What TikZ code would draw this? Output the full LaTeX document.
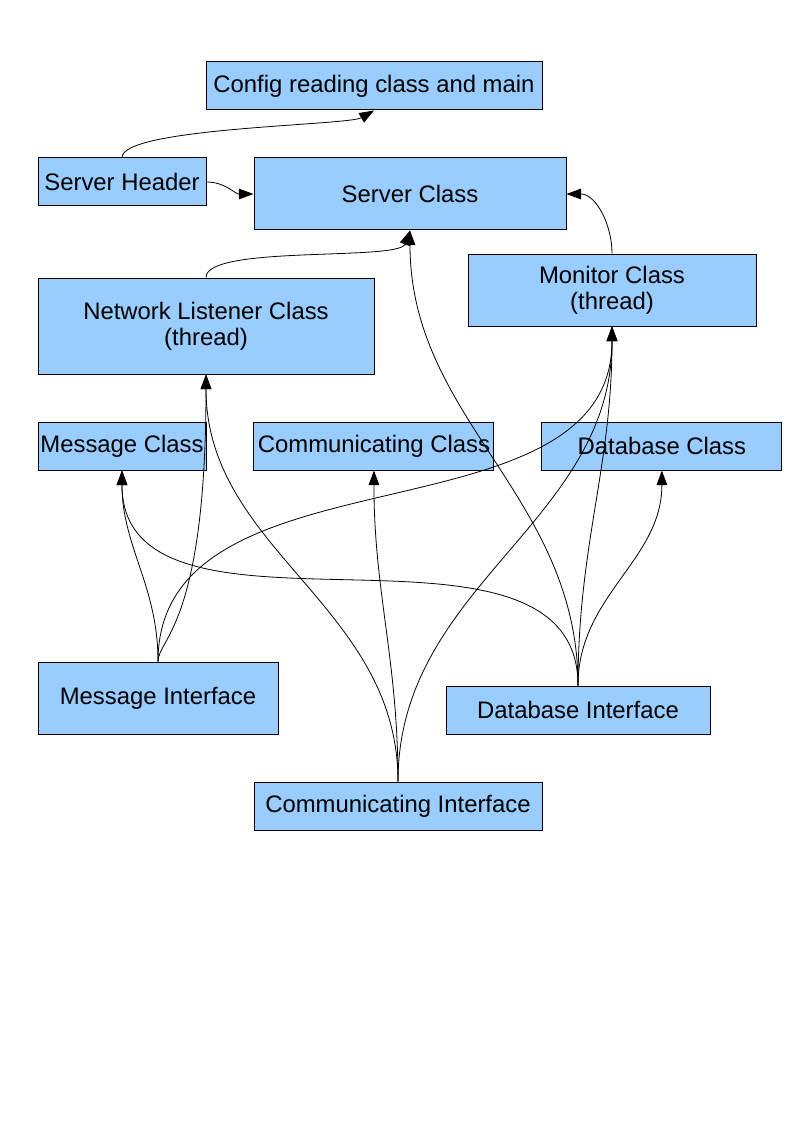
\documentclass[tikz,border=0pt]{standalone}
\usepackage{fontspec}
\setmainfont{Liberation Sans}
\usetikzlibrary{arrows.meta,positioning}
\definecolor{boxblue}{HTML}{99CCFF}

\begin{document}
\begin{tikzpicture}[x=0.75pt,y=-0.75pt]
 \tikzset{class node/.style={rectangle, draw, fill=boxblue, line width=0.75pt,
 		text centered, align=center, inner sep=0pt,
 		font=\fontsize{17.9pt}{19.5pt}\selectfont}, }
 \tikzset{linea/.style={-{Triangle[length=11pt,width=8pt]}, line width=0.6pt},}
 \fill[white] (0,0) rectangle (794,1123);
 \useasboundingbox (0,0) rectangle (794,1123);
 \node[class node, minimum width=252pt, minimum height=36pt] (1) at (374,86) {Config reading class and main};
 \node[class node, minimum width=126pt, minimum height=36pt] (2) at (122,182) {Server Header};
 \node[class node, minimum width=234pt, minimum height=54pt] (3) at (410,194) {Server Class};
 \node[class node, minimum width=252pt, minimum height=72pt] (4) at (206,326) {Network Listener Class\\(thread)};
 \node[class node, minimum width=216pt, minimum height=54pt] (5) at (612,290) {Monitor Class\\(thread)};
 \node[class node, minimum width=126pt, minimum height=36pt] (6) at (122,446) {Message Class};
 \node[class node, minimum width=180pt, minimum height=36pt] (7)[right=35.2pt of 6] {Communicating Class};
 \node[class node, minimum width=180pt, minimum height=36pt] (8)[right=35.2pt of 7] {Database Class};
 \node[class node, minimum width=180pt, minimum height=54pt] (9) at (158,698) {Message Interface};
 \node[class node, minimum width=198pt, minimum height=36pt] (10) at (578,710) {Database Interface};
 \node[class node, minimum width=216pt, minimum height=36pt] (11) at (398,806) {Communicating Interface};
 \foreach \x /\y in {9/6,9/5,11/7,11/4,11/5,10/6,10/3,10/5,10/8}
 \draw[linea] (\x.north) to[out=90,in=-90] (\y.south);
 \draw[linea] (9.north) to[out=90,in=-90,out looseness=0.2,in looseness=2.2] (4.south);
 \draw[linea] (4.north) to[out=90,in=-110,looseness=0.4] (3.south);
 \draw[linea] (2.north) to[out=90,in=210,looseness=0.3] (1.south);
 \draw[linea] (2.east) to[out=0,in=180] (3.west);
 \draw[linea] (5.north) to[out=90,in=0] (3.east);
\end{tikzpicture}
\end{document}
